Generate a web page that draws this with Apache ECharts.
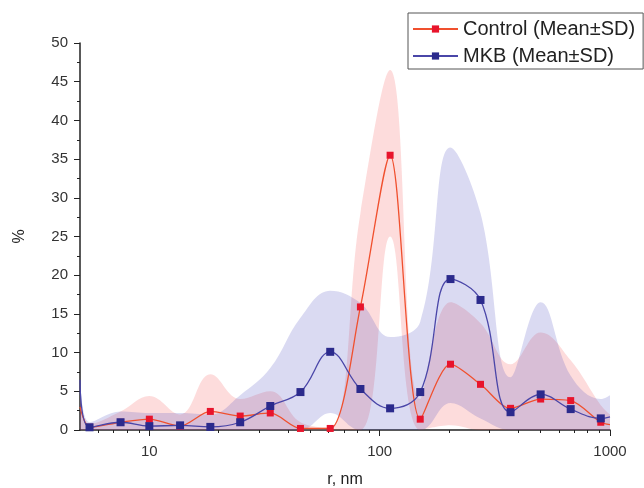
<!DOCTYPE html>
<html>
<head>
<meta charset="utf-8">
<script src="https://cdn.jsdelivr.net/npm/echarts@6/dist/echarts.min.js"></script>
<style>
  html, body { margin: 0; padding: 0; background: #fff; }
  #main { width: 644px; height: 488px; }
</style>
</head>
<body>
<div id="main"></div>
<script>
// particle radius, nm (first and last entries are the curve ends at the axis limits)
var radii = [5, 5.5, 7.5, 10, 13.6, 18.4, 24.8, 33.5, 45.3, 61, 82.5, 111, 150, 203, 274, 370, 500, 675, 912, 1000];

// Control: mean and the SD envelope
var controlMean  = [3.0, 0.35, 1.0, 1.4, 0.5, 2.4, 1.8, 2.2, 0.2, 0.2, 15.9, 35.5, 1.4, 8.5, 5.9, 2.8, 4.0, 3.8, 1.0, 0.7];
var controlUpper = [4.5, 0.8, 2.4, 4.4, 2.0, 7.2, 4.0, 5.0, 1.0, 0.3, 28, 46.5, 4.0, 16.5, 13.8, 8.5, 12.6, 9.0, 3.2, 2.0];
var controlLower = [0, 0, 0, 0, 0, 0, 0, 0, 0, 0, 0, 25, 0, 0.6, 0, 0, 0, 0, 0, 0];

// MKB: mean and the SD envelope
var mkbMean  = [6.5, 0.35, 1.0, 0.5, 0.6, 0.4, 1.0, 3.1, 4.9, 10.1, 5.3, 2.8, 4.9, 19.5, 16.8, 2.3, 4.6, 2.7, 1.5, 1.7];
var mkbUpper = [8, 1.0, 2.4, 2.2, 2.2, 2.0, 4.5, 8, 14.5, 18, 16.4, 12, 14, 36.5, 28, 6.8, 16.5, 7, 4, 4.5];
var mkbLower = [0, 0, 0, 0, 0, 0, 0, 0, 0, 2.2, 0, 0, 0, 3.5, 1.5, 0, 0, 0, 0, 0];

// axis ticks
var xMajorTicks = [10, 100, 1000];
var xMinorTicks = [6, 7, 8, 9, 20, 30, 40, 50, 60, 70, 80, 90, 200, 300, 400, 500, 600, 700, 800, 900];

var FONT = 'Liberation Sans';
var SMOOTH = 0.4;

function meanData(vals) {
    return vals.map(function (v, i) {
        var item = { value: [radii[i], v] };
        // no marker on the curve ends at the axis limits
        if (i === 0 || i === vals.length - 1) item.symbol = 'none';
        return item;
    });
}

// band = invisible lower line + (upper - lower) stacked on it.
// values go first in each row so the stack is taken on y, not on r
function bandSeries(name, lower, upper, color) {
    return [{
        name: name + '_lo',
        type: 'line',
        stack: name,
        smooth: SMOOTH,
        symbol: 'none',
        encode: { x: 1, y: 0 },
        lineStyle: { width: 0, opacity: 0 },
        data: lower.map(function (v, i) { return [v, radii[i]]; }),
        silent: true,
        z: 1
    }, {
        name: name + '_band',
        type: 'line',
        stack: name,
        smooth: SMOOTH,
        symbol: 'none',
        encode: { x: 1, y: 0 },
        lineStyle: { width: 0, opacity: 0 },
        areaStyle: { color: color, opacity: 1 },
        data: upper.map(function (v, i) { return [v - lower[i], radii[i]]; }),
        silent: true,
        z: 1
    }];
}

var chart = echarts.init(document.getElementById('main'));

chart.setOption({
    animation: false,
    backgroundColor: '#fff',
    textStyle: { fontFamily: FONT },
    grid: { left: 80, right: 34, top: 43, bottom: 58, outerBoundsMode: 'none' },
    legend: {
        data: ['Control (Mean±SD)', 'MKB (Mean±SD)'],
        orient: 'vertical',
        left: 408,
        top: 13,
        padding: [6, 8, 3, 4],
        itemGap: 7,
        itemWidth: 45,
        itemHeight: 9,
        borderColor: '#555',
        borderWidth: 1,
        textStyle: { fontSize: 20, color: '#222', fontFamily: FONT }
    },
    xAxis: [{
        type: 'log',
        logBase: 10,
        min: 5,
        max: 1000,
        name: 'r, nm',
        nameLocation: 'middle',
        nameGap: 42,
        nameTextStyle: { fontSize: 16, color: '#222' },
        axisLine: { lineStyle: { color: '#222', width: 1.5 } },
        axisTick: { show: true, length: 6, customValues: xMajorTicks, lineStyle: { color: '#222' } },
        axisLabel: {
            customValues: xMajorTicks, fontSize: 15, color: '#333', margin: 14,
            formatter: function (v) { return String(v); }
        },
        splitLine: { show: false }
    }, {
        type: 'log',
        logBase: 10,
        min: 5,
        max: 1000,
        position: 'bottom',
        axisLine: { show: false },
        axisTick: { show: true, length: 3, customValues: xMinorTicks, lineStyle: { color: '#222' } },
        axisLabel: { show: false },
        splitLine: { show: false }
    }],
    yAxis: {
        type: 'value',
        min: 0,
        max: 50,
        interval: 5,
        name: '%',
        nameLocation: 'middle',
        nameGap: 52,
        nameTextStyle: { fontSize: 16, color: '#222' },
        axisLine: { show: true, lineStyle: { color: '#222', width: 1.5 } },
        axisTick: { show: true, length: 6, lineStyle: { color: '#222' } },
        minorTick: { show: true, splitNumber: 2, length: 3, lineStyle: { color: '#222' } },
        axisLabel: { fontSize: 15, color: '#333', margin: 12 },
        splitLine: { show: false }
    },
    series: [].concat(
        bandSeries('control', controlLower, controlUpper, 'rgba(245,80,80,0.2)'),
        bandSeries('mkb', mkbLower, mkbUpper, 'rgba(70,70,190,0.2)'),
        [{
            name: 'Control (Mean±SD)',
            type: 'line',
            smooth: 0.28,
            symbol: 'rect',
            symbolSize: 7,
            itemStyle: { color: '#e8142c' },
            lineStyle: { color: '#f0502e', width: 1.3 },
            data: meanData(controlMean),
            z: 3
        }, {
            name: 'MKB (Mean±SD)',
            type: 'line',
            smooth: SMOOTH,
            symbol: 'rect',
            symbolSize: 8,
            itemStyle: { color: '#2b2a8c' },
            lineStyle: { color: '#4a46a8', width: 1.3 },
            data: meanData(mkbMean),
            z: 4
        }]
    )
});
</script>
</body>
</html>
